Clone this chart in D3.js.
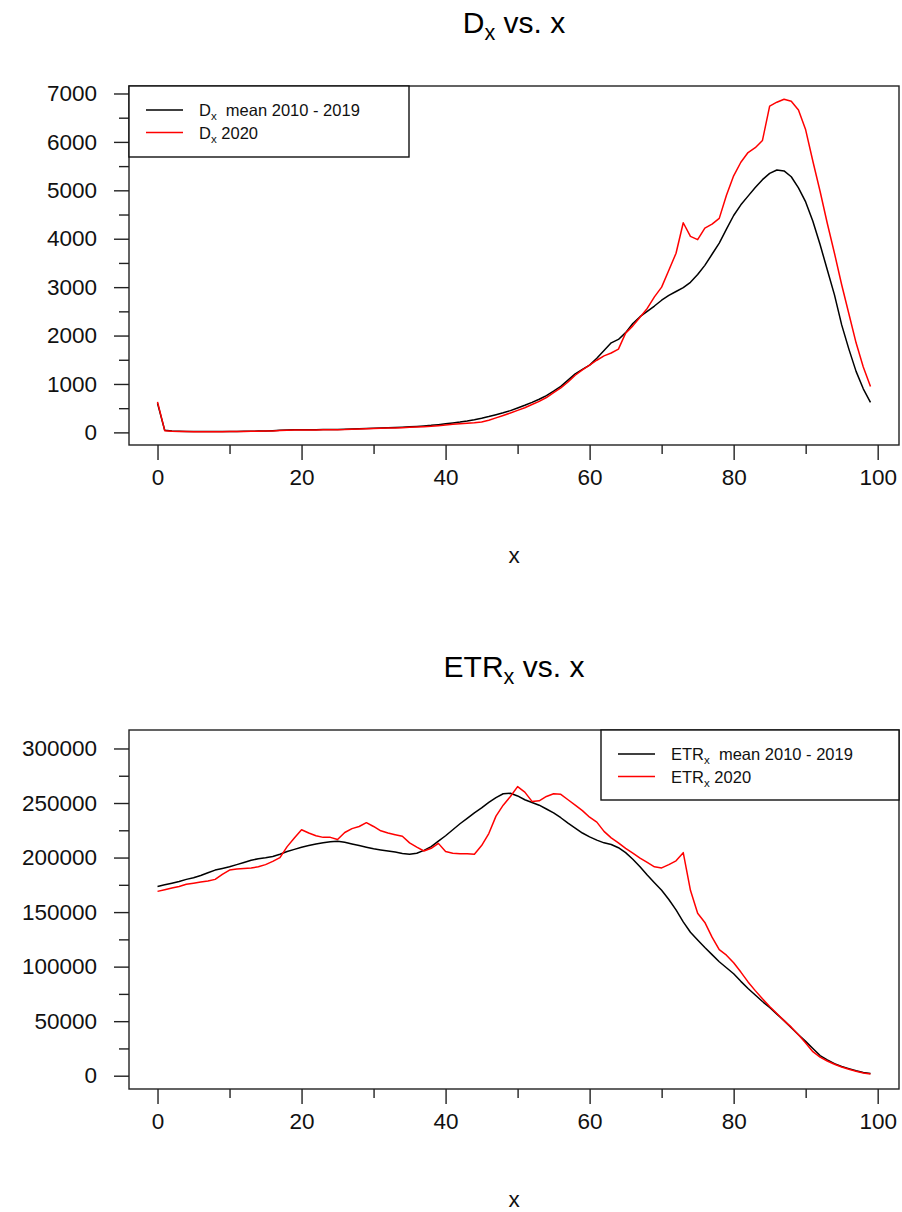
<!DOCTYPE html>
<html>
<head>
<meta charset="utf-8">
<script src="https://cdn.jsdelivr.net/npm/d3@7"></script>
<style>
  html, body { margin: 0; padding: 0; background: #fff; }
  svg { display: block; font-family: "Liberation Sans", Arial, sans-serif; }
  text { white-space: pre; }
</style>
</head>
<body>
<svg id="chart" width="902" height="1212"></svg>
<script>
// Ages 0..99
const ages = d3.range(0, 100);

// Deaths by age, mean over 2010-2019
const dxMean = [
  600, 45, 28, 22, 19, 17, 16, 16, 16, 17,
  18, 19, 21, 23, 26, 30, 36, 42, 48, 52,
  54, 55, 56, 57, 59, 62, 66, 70, 74, 79,
  84, 90, 96, 102, 108, 115, 124, 134, 145, 160,
  178, 196, 214, 236, 262, 292, 326, 364, 404, 450,
  505, 560, 620, 685, 760, 850, 950, 1080, 1210, 1300,
  1390, 1530, 1690, 1850, 1920, 2060, 2250, 2390, 2500, 2610,
  2730, 2830, 2910, 2990, 3100, 3260, 3450, 3680, 3910, 4200,
  4480, 4700, 4880, 5060, 5220, 5350, 5420, 5400, 5280, 5050,
  4760, 4360, 3880, 3360, 2840, 2220, 1720, 1260, 900, 620
];

// Deaths by age, 2020
const dx2020 = [
  630, 35, 22, 18, 16, 15, 14, 14, 15, 15,
  16, 17, 19, 21, 23, 26, 30, 40, 45, 48,
  50, 50, 51, 52, 54, 56, 58, 66, 72, 76,
  80, 84, 88, 93, 98, 104, 110, 118, 126, 138,
  152, 166, 178, 190, 200, 214, 250, 300, 350, 400,
  455, 510, 575, 640, 720, 820, 920, 1040, 1180, 1290,
  1390, 1490, 1580, 1640, 1720, 2050, 2200, 2380, 2560, 2800,
  3000, 3350, 3700, 4330, 4050, 3980, 4220, 4300, 4420, 4900,
  5300, 5580, 5780, 5880, 6030, 6740, 6820, 6880, 6840, 6660,
  6250, 5600, 4980, 4320, 3700, 3050, 2450, 1850, 1350, 950
];

// Exposure to risk by age, mean over 2010-2019
const etrMean = [
  173500, 175000, 176500, 178000, 180000, 181500, 183500, 186000, 188500, 190000,
  191500, 193500, 195500, 197500, 199000, 199800, 201000, 203000, 205500, 207500,
  209500, 211000, 212500, 213500, 214500, 215000, 214000, 212500, 211000, 209500,
  208000, 207000, 206000, 205000, 203800, 203000, 204000, 206600, 210000, 215000,
  220000, 225500, 231000, 236000, 241000, 245500, 250500, 255000, 258500, 259000,
  256500, 253000, 250500, 248000, 244500, 241000, 236500, 231500, 227000, 222500,
  219000, 216000, 213500, 212000, 209000, 204500, 198500, 191500, 184000, 177000,
  170000, 161500, 152000, 141000, 131500, 124500, 117500, 111000, 104500, 99000,
  93500, 86500, 80000, 74000, 68000, 62500, 56500, 50500, 44000, 37500,
  31500, 25000, 18500, 14500, 11000, 8500, 6500, 4500, 3000, 2000
];

// Exposure to risk by age, 2020
const etr2020 = [
  169000, 170500, 172000, 173500, 175500, 176500, 177500, 178500, 180000, 184500,
  188500, 189500, 190000, 190500, 191500, 193500, 196500, 200000, 210000, 218000,
  225500, 222500, 220000, 218500, 218500, 216500, 223000, 226500, 228500, 232000,
  228500, 224500, 222500, 221000, 219500, 213500, 209500, 206000, 208500, 213000,
  205500, 204000, 203500, 203500, 203000, 211000, 222000, 238000, 248000, 256000,
  265000, 260000, 251500, 252000, 256000, 258500, 258000, 253000, 248000, 243000,
  237000, 232500, 224000, 218000, 213500, 208500, 204000, 199500, 195500, 191500,
  190500, 193500, 197000, 204500, 170000, 149000, 140500, 127000, 115500, 110500,
  103500, 95000, 86000, 78000, 70500, 63500, 57000, 50500, 44500, 37500,
  30000, 22000, 17000, 13500, 10500, 8000, 6000, 4000, 2500, 1500
];

// Axis ticks
const xTicks = [0, 20, 40, 60, 80, 100];
const xMinorTicks = [10, 30, 50, 70, 90];
const dxTicks = [0, 1000, 2000, 3000, 4000, 5000, 6000, 7000];
const dxMinorTicks = [500, 1500, 2500, 3500, 4500, 5500, 6500];
const etrTicks = [0, 50000, 100000, 150000, 200000, 250000, 300000];
const etrMinorTicks = [25000, 75000, 125000, 175000, 225000, 275000];

const svg = d3.select("#chart");
const FONT_TICK = 22.5;
const FONT_TITLE = 30;
const FONT_LEGEND = 16.5;
const AXIS_COLOR = "#222";

// Range padded by 4% on each side
function padded(lo, hi) {
  const p = (hi - lo) * 0.04;
  return [lo - p, hi + p];
}

function drawPanel(opts) {
  const { top, bottom, left, right, yDomain, series, yTicks, yMinor, titleMain, legend } = opts;
  const g = svg.append("g");

  const x = d3.scaleLinear().domain(padded(0, 99)).range([left, right]);
  const y = d3.scaleLinear().domain(yDomain).range([bottom, top]);

  // Title with subscript
  const title = g.append("text")
    .attr("x", (left + right) / 2)
    .attr("y", top - 53)
    .attr("text-anchor", "middle")
    .attr("font-size", FONT_TITLE)
    .attr("fill", "#000");
  title.append("tspan").text(titleMain);
  title.append("tspan").attr("font-size", FONT_TITLE * 0.72).attr("dy", 7).text("x");
  title.append("tspan").attr("dy", -7).text(" vs. x");

  // Data lines
  const line = d3.line().x((d, i) => x(ages[i])).y(d => y(d));
  series.forEach(s => {
    g.append("path")
      .datum(s.values)
      .attr("fill", "none")
      .attr("stroke", s.color)
      .attr("stroke-width", 1.5)
      .attr("stroke-linejoin", "round")
      .attr("d", line);
  });

  // Plot frame
  g.append("rect")
    .attr("x", left).attr("y", top)
    .attr("width", right - left).attr("height", bottom - top)
    .attr("fill", "none").attr("stroke", AXIS_COLOR).attr("stroke-width", 1.4);

  // X axis
  const xAxis = d3.axisBottom(x).tickValues(xTicks).tickSize(15).tickPadding(5).tickFormat(d3.format("d"));
  const xg = g.append("g").attr("transform", `translate(0,${bottom})`).call(xAxis);
  xg.select(".domain").remove();
  xg.selectAll(".tick line").attr("stroke", AXIS_COLOR).attr("stroke-width", 1.4);
  xg.selectAll(".tick text").attr("font-size", FONT_TICK).attr("fill", "#111")
    .attr("font-family", "'Liberation Sans', Arial, sans-serif").attr("dy", "0.9em");
  const xm = d3.axisBottom(x).tickValues(xMinorTicks).tickSize(9).tickFormat("");
  const xmg = g.append("g").attr("transform", `translate(0,${bottom})`).call(xm);
  xmg.select(".domain").remove();
  xmg.selectAll(".tick line").attr("stroke", AXIS_COLOR).attr("stroke-width", 1.4);

  // Y axis
  const yAxis = d3.axisLeft(y).tickValues(yTicks).tickSize(15).tickPadding(17).tickFormat(d3.format("d"));
  const yg = g.append("g").attr("transform", `translate(${left},0)`).call(yAxis);
  yg.select(".domain").remove();
  yg.selectAll(".tick line").attr("stroke", AXIS_COLOR).attr("stroke-width", 1.4);
  yg.selectAll(".tick text").attr("font-size", FONT_TICK).attr("fill", "#111")
    .attr("font-family", "'Liberation Sans', Arial, sans-serif");
  const ym = d3.axisLeft(y).tickValues(yMinor).tickSize(10).tickFormat("");
  const ymg = g.append("g").attr("transform", `translate(${left},0)`).call(ym);
  ymg.select(".domain").remove();
  ymg.selectAll(".tick line").attr("stroke", AXIS_COLOR).attr("stroke-width", 1.4);

  // X axis title
  g.append("text")
    .attr("x", (left + right) / 2)
    .attr("y", bottom + 118)
    .attr("text-anchor", "middle")
    .attr("font-size", FONT_TICK)
    .attr("fill", "#111")
    .text("x");

  // Legend
  const lg = g.append("g");
  lg.append("rect")
    .attr("x", legend.x0).attr("y", top)
    .attr("width", legend.x1 - legend.x0).attr("height", legend.h)
    .attr("fill", "#fff").attr("stroke", "#111").attr("stroke-width", 1.4);
  series.forEach((s, i) => {
    const ly = top + 24 + i * 22.5;
    lg.append("line")
      .attr("x1", legend.x0 + 17).attr("x2", legend.x0 + 54)
      .attr("y1", ly).attr("y2", ly)
      .attr("stroke", s.color).attr("stroke-width", 1.4);
    const t = lg.append("text")
      .attr("x", legend.x0 + 70).attr("y", ly + 6)
      .attr("font-size", FONT_LEGEND).attr("fill", "#111");
    t.append("tspan").text(titleMain);
    t.append("tspan").attr("font-size", FONT_LEGEND * 0.7).attr("dy", 4).text("x");
    t.append("tspan").attr("dy", -4).text(s.label);
  });
}

// Panel 1: deaths
drawPanel({
  top: 86, bottom: 445, left: 129, right: 899,
  yDomain: padded(d3.min(dxMean.concat(dx2020)), d3.max(dxMean.concat(dx2020))),
  series: [
    { values: dxMean, color: "#000000", label: "  mean 2010 - 2019" },
    { values: dx2020, color: "#ff0000", label: " 2020" }
  ],
  yTicks: dxTicks, yMinor: dxMinorTicks,
  titleMain: "D",
  legend: { x0: 129, x1: 409, h: 71 }
});

// Panel 2: exposure to risk
drawPanel({
  top: 730, bottom: 1089, left: 129, right: 899,
  yDomain: padded(0, 1.15 * d3.max(etrMean.concat(etr2020))),
  series: [
    { values: etrMean, color: "#000000", label: "  mean 2010 - 2019" },
    { values: etr2020, color: "#ff0000", label: " 2020" }
  ],
  yTicks: etrTicks, yMinor: etrMinorTicks,
  titleMain: "ETR",
  legend: { x0: 601, x1: 899, h: 70 }
});
</script>
</body>
</html>
